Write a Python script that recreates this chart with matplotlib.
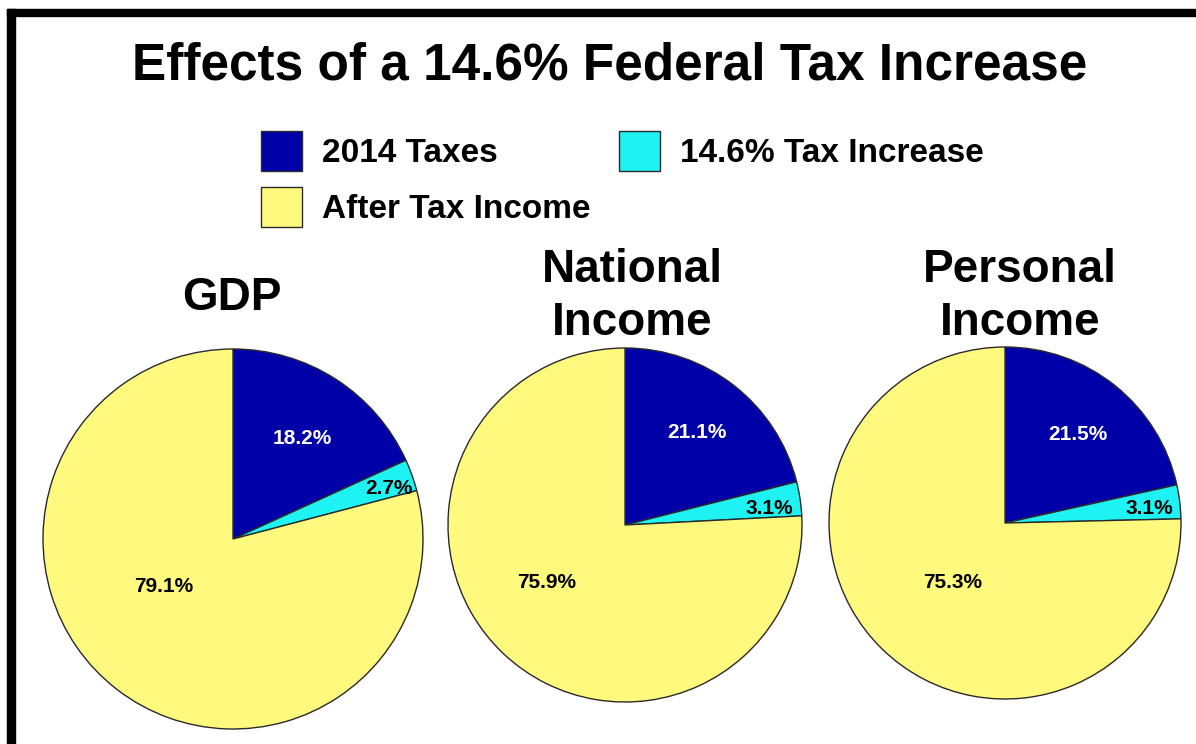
import matplotlib.pyplot as plt
from matplotlib.patches import Rectangle

plt.rcParams['font.family'] = ['Liberation Sans', 'DejaVu Sans']

# data
categories = ['2014 Taxes', '14.6% Tax Increase', 'After Tax Income']
gdp = [18.2, 2.7, 79.1]
national_income = [21.1, 3.1, 75.9]
personal_income = [21.5, 3.1, 75.3]
pie_titles = ['GDP', 'National\nIncome', 'Personal\nIncome']
colors = ['#0000A8', '#1EF2F2', '#FFFA7D']
label_colors = ['white', 'black', 'black']

W, H = 1196, 744

def Y(y):  # pixel row -> data y (axes uses pixel units, origin bottom)
    return H - y

fig = plt.figure(figsize=(W / 100, H / 100), dpi=100)
ax = fig.add_axes([0, 0, 1, 1])

# pie layout (pixel units): centre x, centre y, radius
layout = [(233, 539, 190), (625, 525, 177), (1005, 523, 176)]
title_pos = [(232, 310), (632, 335), (1020, 335)]
label_pos = [
    [(302, 438), (389, 488), (164, 586)],
    [(697, 433), (769, 508), (547, 583)],
    [(1078, 435), (1149, 509), (953, 583)],
]

wedges = None
for vals, (cx, cy, r), ttl, (tx, ty), lpos in zip(
        [gdp, national_income, personal_income], layout, pie_titles, title_pos, label_pos):
    w, _ = ax.pie(vals, colors=colors, startangle=90, counterclock=False,
                  center=(cx, Y(cy)), radius=r,
                  wedgeprops=dict(edgecolor='#2a2a2a', linewidth=1.0))
    if wedges is None:
        wedges = w
    for v, (lx, ly), c in zip(vals, lpos, label_colors):
        ax.text(lx, Y(ly), '%.1f%%' % v, ha='center', va='center',
                fontsize=15, fontweight='bold', color=c)
    ax.text(tx, Y(ty), ttl, ha='center', va='baseline', fontsize=33,
            fontweight='bold', linespacing=1.25, multialignment='center')

ax.set_xlim(0, W)
ax.set_ylim(0, H)
ax.set_aspect('equal')
ax.axis('off')

ax.text(610, Y(79), 'Effects of a 14.6% Federal Tax Increase', ha='center',
        va='baseline', fontsize=37, fontweight='bold')

# legend: two columns, 2014 Taxes / After Tax Income on the left
order = [0, 2, 1]
leg = ax.legend([wedges[i] for i in order], [categories[i] for i in order],
                ncol=2, loc='upper left', bbox_to_anchor=(261 / W, 1 - 131 / H),
                frameon=False, borderpad=0, borderaxespad=0,
                handlelength=1.23, handleheight=1.47, handletextpad=0.6,
                labelspacing=0.48, columnspacing=0.85,
                prop=dict(size=24, weight='bold'))

# black frame on left and top
fig.patches.append(Rectangle((7 / W, 0), 8 / W, 1 - 9 / H, transform=fig.transFigure,
                             color='black', zorder=10))
fig.patches.append(Rectangle((7 / W, 1 - 16 / H), 1, 7 / H, transform=fig.transFigure,
                             color='black', zorder=10))

plt.savefig('out.png', dpi=100)
